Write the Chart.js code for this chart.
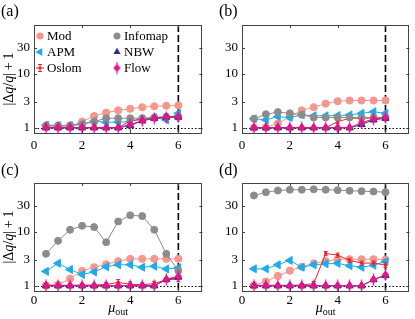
<!DOCTYPE html>
<html><head><meta charset="utf-8">
<script src="https://cdn.jsdelivr.net/npm/chart.js@4/dist/chart.umd.min.js"></script>
<style>
html,body{margin:0;padding:0;background:#fff;width:415px;height:319px;overflow:hidden}
.p{position:absolute}
</style></head><body>
<div class="p" style="left:0;top:0;width:208px;height:159px"><canvas id="ca"></canvas></div>
<div class="p" style="left:207px;top:0;width:208px;height:159px"><canvas id="cb"></canvas></div>
<div class="p" style="left:0;top:159px;width:208px;height:160px"><canvas id="cc"></canvas></div>
<div class="p" style="left:207px;top:159px;width:208px;height:160px"><canvas id="cd"></canvas></div>
<script>
// ---------- data ----------
const xValues = [0.5,1,1.5,2,2.5,3,3.5,4,4.5,5,5.5,6];
const xTickValues = [0,2,4,6];
const yTickValues = [1,3,10,30];
const seriesNames = ['Mod','APM','Oslom','Infomap','NBW','Flow'];
const panelLabels = ['(a)','(b)','(c)','(d)'];
const refLineY = 1;
const refLineX = 6;

// panel (a)
const modA     = [1.05,1.05,1.07,1.3,1.65,1.9,2.1,2.25,2.4,2.5,2.55,2.6];
const apmA     = [1.12,1.1,1.1,1.18,1.32,1.26,1.27,1.3,1.45,1.55,1.4,1.85];
const oslomA   = [1.0,1.0,1.0,1.0,1.0,1.0,1.0,1.35,1.45,1.55,1.58,1.6];
const infomapA = [1.1,1.1,1.1,1.15,1.3,1.5,1.5,1.5,1.5,1.55,1.6,1.6];
const nbwA     = [1.0,1.0,1.0,1.0,1.0,1.0,1.0,1.1,1.35,1.5,1.58,1.58];
const flowA    = [1.0,1.0,1.0,1.0,1.0,1.0,1.0,1.15,1.35,1.5,1.55,1.6];
const oslomErrA= [0.02,0.02,0.02,0.02,0.02,0.02,0.02,0.04,0.04,0.04,0.04,0.04];
// panel (b)
const modB     = [1.0,1.02,1.2,1.6,2.1,2.4,2.8,3.1,3.2,3.2,3.2,3.2];
const apmB     = [1.47,1.4,1.6,1.55,1.73,1.67,1.67,1.68,1.73,1.85,1.98,1.85];
const oslomB   = [1.0,1.0,1.0,1.0,1.0,1.0,1.0,1.3,1.5,1.5,1.52,1.55];
const infomapB = [1.47,1.78,1.95,1.85,1.75,1.55,1.55,1.55,1.55,1.55,1.55,1.55];
const nbwB     = [1.0,1.0,1.0,1.0,1.0,1.0,1.0,1.0,1.0,1.15,1.4,1.5];
const flowB    = [1.0,1.0,1.0,1.0,1.0,1.0,1.0,1.0,1.0,1.25,1.45,1.55];
const oslomErrB= [0.02,0.02,0.02,0.02,0.02,0.02,0.02,0.04,0.04,0.04,0.04,0.04];
// panel (c)
const modC     = [1.02,1.05,1.35,1.88,2.2,2.5,2.85,3.15,3.15,3.15,3.15,3.15];
const apmC     = [1.85,2.6,2.0,1.62,1.8,2.25,2.45,2.45,2.2,2.3,2.05,2.15];
const oslomC   = [1.02,1.02,1.02,1.03,1.03,1.06,1.15,1.07,1.04,1.1,1.3,1.32];
const infomapC = [3.9,6.8,10.9,12.9,12.2,6.4,15.5,20.2,19.5,10.9,3.9,1.9];
const nbwC     = [1.0,1.0,1.0,1.0,1.0,1.0,1.0,1.0,1.0,1.0,1.3,1.45];
const flowC    = [1.0,1.0,1.0,1.0,1.0,1.0,1.0,1.0,1.0,1.0,1.32,1.5];
const oslomErrC= [0.02,0.02,0.02,0.03,0.03,0.05,0.1,0.06,0.04,0.06,0.06,0.08];
// panel (d)
const modD     = [1.03,1.2,1.52,1.9,2.25,2.6,2.85,3.1,3.1,3.1,3.1,3.05];
const apmD     = [2.06,2.06,2.45,2.95,2.2,2.45,2.55,2.6,2.35,2.2,2.4,2.8];
const oslomD   = [1.02,1.02,1.02,1.02,1.03,1.1,3.95,3.7,2.95,2.63,2.63,2.42];
const infomapD = [47,54,58,60,60,61,60,59,57.5,56.5,55.5,54];
const nbwD     = [1.0,1.0,1.0,1.0,1.0,1.0,1.0,1.0,1.0,1.0,1.3,1.55];
const flowD    = [1.0,1.0,1.0,1.0,1.0,1.0,1.0,1.0,1.0,1.0,1.3,1.6];
const oslomErrD= [0.02,0.02,0.02,0.02,0.03,0.05,0.18,0.15,0.14,0.12,0.12,0.14];

// ---------- styling ----------
const SERIF = '"Liberation Serif","DejaVu Serif",serif';
const colors = {
  Mod:'rgb(246,150,140)', APM:'rgb(28,172,236)', Oslom:'rgb(236,36,44)',
  Infomap:'rgb(140,140,140)', NBW:'rgb(44,46,140)', Flow:'rgb(228,22,138)'
};
function flowMarker(color){
  const c=document.createElement('canvas'); c.width=9; c.height=13;
  const g=c.getContext('2d'); g.fillStyle=color; g.strokeStyle=color; g.lineWidth=1.3;
  g.beginPath(); g.moveTo(4.5,2.3); g.lineTo(8.2,6.5); g.lineTo(4.5,10.7); g.lineTo(0.8,6.5); g.closePath(); g.fill();
  g.beginPath(); g.moveTo(4.5,0.5); g.lineTo(4.5,12.5); g.stroke();
  return c;
}
const flowImg = flowMarker(colors.Flow);
const markers = {
  Mod:{pointStyle:'circle', radius:3.6, rotation:0},
  APM:{pointStyle:'triangle', radius:4.6, rotation:-90},
  Oslom:{pointStyle:'rect', radius:1.4, rotation:0},
  Infomap:{pointStyle:'circle', radius:3.5, rotation:0},
  NBW:{pointStyle:'triangle', radius:4.2, rotation:0},
  Flow:{pointStyle:flowImg, radius:4, rotation:0}
};

function ds(name, vals, idx, err){
  const m = markers[name], c = colors[name];
  return {
    label:name, data:xValues.map((x,i)=>({x:x,y:vals[i]})),
    borderColor:c, backgroundColor:c, borderWidth:1,
    pointStyle:m.pointStyle, pointRadius:m.radius, pointRotation:m.rotation,
    pointBackgroundColor:c, pointBorderColor:c, pointBorderWidth:1,
    order: 5-idx, errors: err || null, showLine:true, tension:0
  };
}

// ---------- decoration plugin ----------
const deco = {
  id:'deco',
  beforeDatasetsDraw(chart){
    const {ctx, chartArea:a, scales:{x,y}} = chart;
    ctx.save();
    ctx.strokeStyle='#000';
    ctx.lineWidth=1; ctx.setLineDash([1.5,2]);
    const y1 = Math.round(y.getPixelForValue(refLineY))+0.5;
    ctx.beginPath(); ctx.moveTo(a.left,y1); ctx.lineTo(a.right,y1); ctx.stroke();
    ctx.setLineDash([7,3]); ctx.lineWidth=1.6;
    const x6 = x.getPixelForValue(refLineX);
    ctx.beginPath(); ctx.moveTo(x6,a.top); ctx.lineTo(x6,a.bottom); ctx.stroke();
    ctx.restore();
  },
  afterDatasetDraw(chart, args){
    const dset = chart.data.datasets[args.index];
    if(!dset.errors) return;
    const {ctx, scales:{x,y}} = chart;
    ctx.save(); ctx.strokeStyle=dset.borderColor; ctx.lineWidth=1;
    dset.data.forEach((p,i)=>{
      const e=dset.errors[i];
      const px=x.getPixelForValue(p.x);
      const yt=y.getPixelForValue(p.y+e), yb=y.getPixelForValue(Math.max(p.y-e,0.81));
      ctx.beginPath();
      ctx.moveTo(px,yt-1); ctx.lineTo(px,yb+1);
      ctx.moveTo(px-2,yt-1); ctx.lineTo(px+2,yt-1);
      ctx.moveTo(px-2,yb+1); ctx.lineTo(px+2,yb+1);
      ctx.stroke();
    });
    ctx.restore();
  },
  afterDraw(chart, args, opts){
    const {ctx, chartArea:a, scales:{x,y}} = chart;
    ctx.save();
    // box
    ctx.strokeStyle='#444'; ctx.lineWidth=1;
    ctx.strokeRect(Math.round(a.left)+0.5, Math.round(a.top)+0.5, Math.round(a.right-a.left)-1, Math.round(a.bottom-a.top));
    // inner ticks
    ctx.beginPath();
    xTickValues.forEach(v=>{const px=Math.round(x.getPixelForValue(v))+0.5;
      ctx.moveTo(px,a.bottom); ctx.lineTo(px,a.bottom-3); ctx.moveTo(px,a.top); ctx.lineTo(px,a.top+3);});
    yTickValues.forEach(v=>{const py=Math.round(y.getPixelForValue(v))+0.5;
      ctx.moveTo(a.left,py); ctx.lineTo(a.left+3,py); ctx.moveTo(a.right,py); ctx.lineTo(a.right-3,py);});
    ctx.stroke();
    // panel label
    ctx.fillStyle='#000'; ctx.font='16px '+SERIF; ctx.textBaseline='middle'; ctx.textAlign='left';
    ctx.fillText(opts.label, opts.labelX, 12);
    // y label
    if(opts.ylabel){
      ctx.save();
      ctx.translate(9,(a.top+a.bottom)/2); ctx.rotate(-Math.PI/2);
      const segs=[['|\u0394',''],['q','italic '],['/',''],['q','italic '],['|\u2009+\u20091','']];
      let tot=0; segs.forEach(s=>{ctx.font=s[1]+'14px '+SERIF; tot+=ctx.measureText(s[0]).width;});
      let cx=-tot/2; ctx.textAlign='left'; ctx.textBaseline='middle';
      segs.forEach(s=>{ctx.font=s[1]+'14px '+SERIF; ctx.fillText(s[0],cx,0); cx+=ctx.measureText(s[0]).width;});
      ctx.restore();
    }
    // x label
    if(opts.xlabel){
      const cxm=(a.left+a.right)/2;
      ctx.font='italic 14px '+SERIF; const w1=ctx.measureText('\u03bc').width;
      ctx.font='10px '+SERIF; const w2=ctx.measureText('out').width;
      let sx=cxm-(w1+w2)/2; ctx.textAlign='left'; ctx.textBaseline='alphabetic';
      ctx.font='italic 14px '+SERIF; ctx.fillText('\u03bc',sx,a.bottom+21);
      ctx.font='10px '+SERIF; ctx.fillText('out',sx+w1,a.bottom+24);
    }
    // legend
    if(opts.legend){
      const pos=[[40,36],[40,52],[40,68],[117,36],[117,52],[117,68]];
      seriesNames.forEach((n,i)=>{
        const [mx,my]=pos[i]; const c=colors[n]; const m=markers[n];
        ctx.fillStyle=c; ctx.strokeStyle=c; ctx.lineWidth=1;
        if(n==='Oslom'){
          ctx.beginPath(); ctx.moveTo(mx,my-3.5); ctx.lineTo(mx,my+3.5);
          ctx.moveTo(mx-2,my-3.5); ctx.lineTo(mx+2,my-3.5); ctx.moveTo(mx-2,my+3.5); ctx.lineTo(mx+2,my+3.5);
          ctx.moveTo(mx-4,my); ctx.lineTo(mx+4,my); ctx.stroke();
          ctx.fillRect(mx-1.4,my-1.4,2.8,2.8);
        } else if(n==='Flow'){
          ctx.drawImage(flowImg,mx-flowImg.width/2,my-flowImg.height/2);
        } else if(m.pointStyle==='circle'){
          ctx.beginPath(); ctx.arc(mx,my,m.radius,0,2*Math.PI); ctx.fill();
        } else {
          let rad=m.rotation*Math.PI/180; const r=m.radius;
          ctx.beginPath();
          ctx.moveTo(mx+Math.sin(rad)*r,my-Math.cos(rad)*r); rad+=2*Math.PI/3;
          ctx.lineTo(mx+Math.sin(rad)*r,my-Math.cos(rad)*r); rad+=2*Math.PI/3;
          ctx.lineTo(mx+Math.sin(rad)*r,my-Math.cos(rad)*r); ctx.closePath(); ctx.fill();
        }
        ctx.fillStyle='#000'; ctx.font='13px '+SERIF; ctx.textAlign='left'; ctx.textBaseline='middle';
        ctx.fillText(n,mx+7,my+0.5);
      });
    }
    ctx.restore();
  }
};

function makeChart(id, series, errs, cfg){
  const [mod,apm,oslom,infomap,nbw,flow]=series;
  new Chart(document.getElementById(id),{
    type:'line',
    data:{datasets:[ds('Mod',mod,0),ds('APM',apm,1),ds('Oslom',oslom,2,errs),ds('Infomap',infomap,3),ds('NBW',nbw,4),ds('Flow',flow,5)]},
    plugins:[deco],
    options:{
      responsive:true, maintainAspectRatio:false, animation:false, devicePixelRatio:1,
      layout:{padding:{top:cfg.top,right:cfg.right,left:0,bottom:0}},
      plugins:{legend:{display:false},tooltip:{enabled:false},
        deco:{label:cfg.label,labelX:cfg.labelX,ylabel:cfg.ylabel,xlabel:cfg.xlabel,legend:cfg.legend}},
      scales:{
        x:{type:'linear',min:0,max:7,grid:{display:false,drawTicks:false},border:{display:false},
          afterBuildTicks:s=>{s.ticks=xTickValues.map(v=>({value:v}));},
          afterFit:s=>{s.height=cfg.xh;},
          ticks:{font:{family:SERIF,size:13},color:'#000',padding:cfg.xpad,maxRotation:0,autoSkip:false,callback:v=>String(v)}},
        y:{type:'logarithmic',min:0.8,max:80,grid:{display:false,drawTicks:false},border:{display:false},
          afterBuildTicks:s=>{s.ticks=yTickValues.map(v=>({value:v}));},
          afterFit:s=>{s.width=cfg.yw;},
          ticks:{font:{family:SERIF,size:13},color:'#000',padding:4,autoSkip:false,callback:v=>String(v)}}
      }
    }
  });
}

makeChart('ca',[modA,apmA,oslomA,infomapA,nbwA,flowA],oslomErrA,
  {top:25,right:2.5,xh:26,xpad:5,yw:34,label:panelLabels[0],labelX:1,ylabel:true,xlabel:false,legend:true});
makeChart('cb',[modB,apmB,oslomB,infomapB,nbwB,flowB],oslomErrB,
  {top:25,right:1.5,xh:26,xpad:5,yw:35,label:panelLabels[1],labelX:12,ylabel:false,xlabel:false,legend:false});
makeChart('cc',[modC,apmC,oslomC,infomapC,nbwC,flowC],oslomErrC,
  {top:24,right:2.5,xh:28,xpad:2,yw:34,label:panelLabels[2],labelX:1,ylabel:true,xlabel:true,legend:false});
makeChart('cd',[modD,apmD,oslomD,infomapD,nbwD,flowD],oslomErrD,
  {top:24,right:1.5,xh:28,xpad:2,yw:35,label:panelLabels[3],labelX:12,ylabel:false,xlabel:true,legend:false});
</script>
</body></html>
